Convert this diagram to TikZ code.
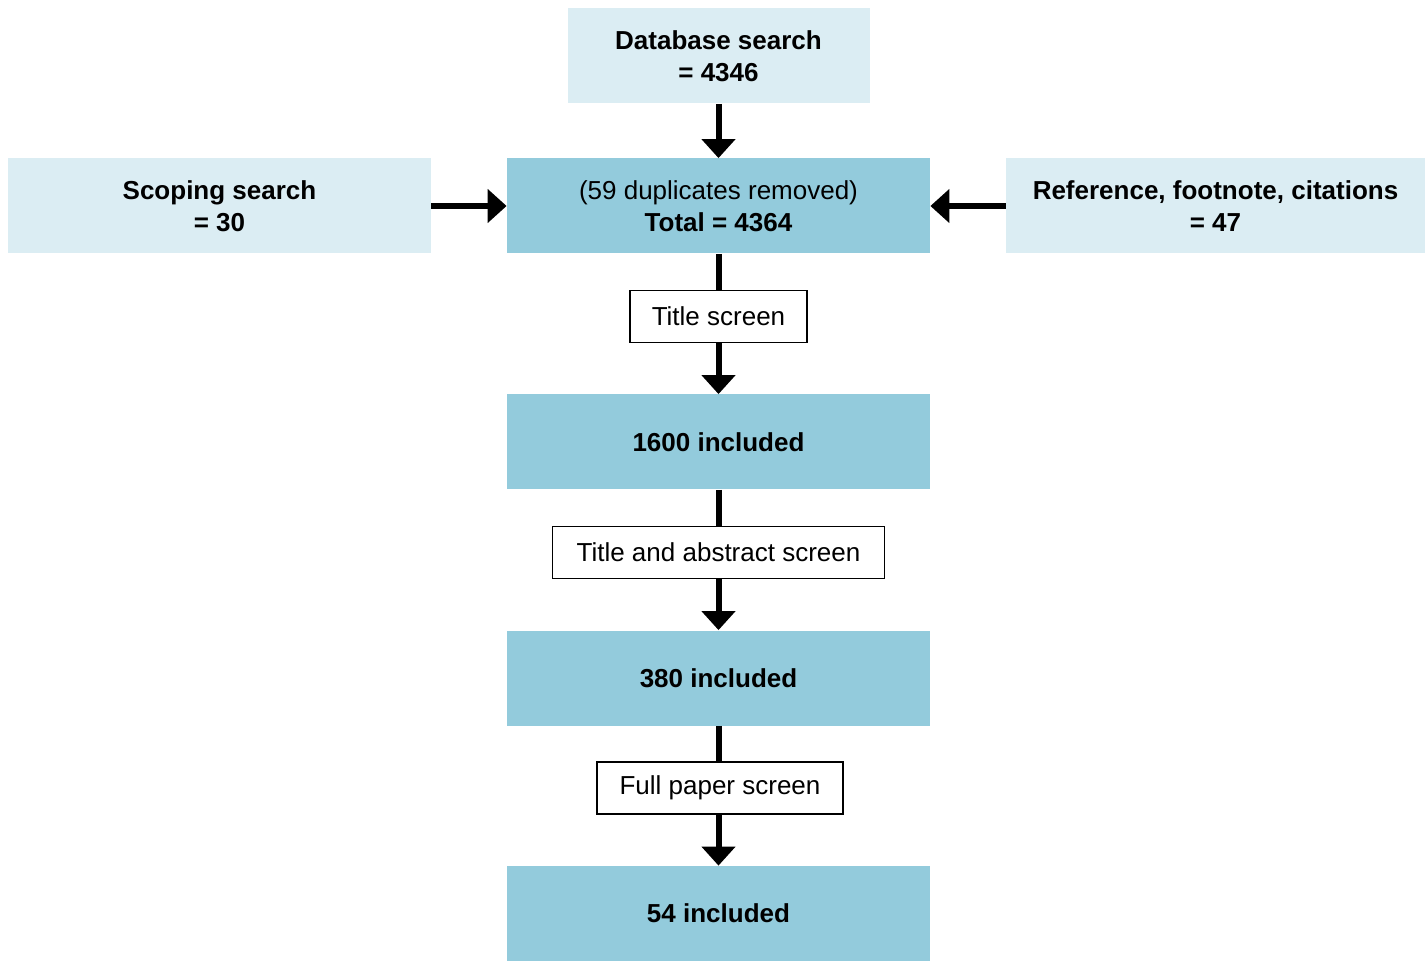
\documentclass[tikz,border=0pt]{standalone}
\usepackage{fontspec}
\setmainfont{Liberation Sans}
\usepackage{tikz}
\usetikzlibrary{arrows.meta, positioning}
\definecolor{paleblue}{HTML}{DBEDF3}
\definecolor{midblue}{HTML}{93CBDC}
\tikzset{
    srcbox/.style={fill=paleblue, inner sep=0pt, minimum height=47.5pt, align=center, font=\fontsize{13}{16}\selectfont\bfseries},
    stagebox/.style={fill=midblue, inner sep=0pt, minimum width=211.5pt, minimum height=47.5pt, align=center, font=\fontsize{13}{16}\selectfont},
    screenbox/.style={draw, line width=0.8pt, fill=white, inner sep=0pt, minimum height=26pt, font=\fontsize{13}{16}\selectfont},
    flow/.style={line width=3pt, -{Triangle[width=16.5pt,length=9.5pt]}},
    link/.style={line width=3pt}
}
\begin{document}
\begin{tikzpicture}[x=0.5pt, y=-0.5pt]
                \useasboundingbox (0,0) rectangle (1426,968);

                \node[srcbox, minimum width=151pt] (db) at (718.5, 56) {Database search\\= 4346};
                \node[srcbox, minimum width=211.5pt] (scoping) at (219.5, 206) {Scoping search\\= 30};
                \node[srcbox, minimum width=209.5pt] (refs) at (1215.5, 206) {Reference, footnote, citations\\= 47};
                \node[stagebox] (total) at (718.5, 206) {(59 duplicates removed)\\\textbf{Total = 4364}};

                \node[screenbox, minimum width=88.5pt] (titlescr) at (718.5, 316.5) {Title screen};
                \node[stagebox, font=\fontsize{13}{16}\selectfont\bfseries] (inc1600) at (718.5, 442) {1600 included};
                \node[screenbox, minimum width=166pt] (abstractscr) at (718.5, 552.5) {Title and abstract screen};
                \node[stagebox, font=\fontsize{13}{16}\selectfont\bfseries] (inc380) at (718.5, 678) {380 included};
                \node[screenbox, minimum width=123pt] (paperscr) at (720, 788) {Full paper screen};
                \node[stagebox, font=\fontsize{13}{16}\selectfont\bfseries] (inc54) at (718.5, 913.5) {54 included};

                \draw[flow] (db.south) -- (total.north);
                \draw[flow] (scoping.east) -- (total.west);
                \draw[flow] (refs.west) -- (total.east);

                \draw[link] (total.south) -- (titlescr.north);
                \draw[flow] (titlescr.south) -- (inc1600.north);
                \draw[link] (inc1600.south) -- (abstractscr.north);
                \draw[flow] (abstractscr.south) -- (inc380.north);
                \draw[link] (inc380.south) -- (paperscr.north -| inc380.south);
                \draw[flow] (paperscr.south -| inc54.north) -- (inc54.north);
\end{tikzpicture}
\end{document}
